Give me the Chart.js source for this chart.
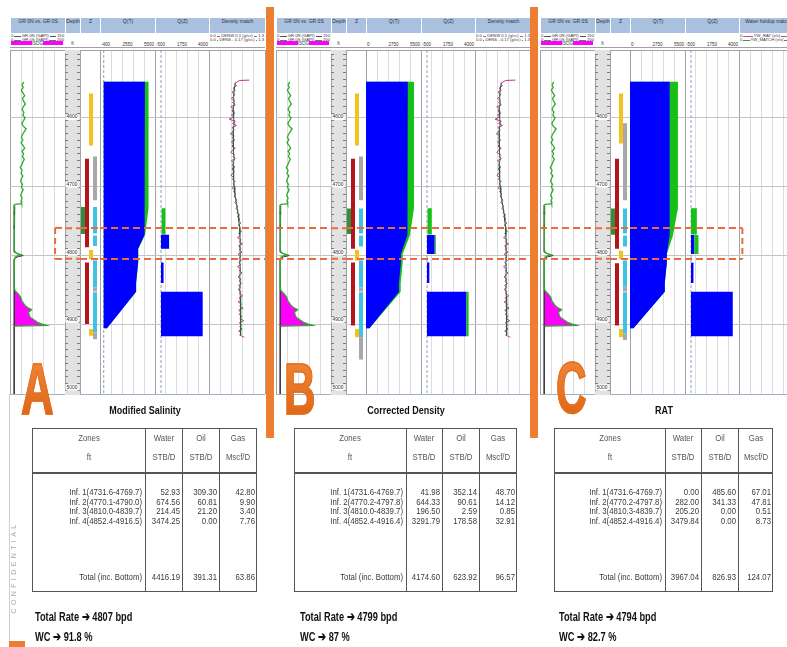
<!DOCTYPE html>
<html>
<head>
<meta charset="utf-8">
<title>Production logging interpretation comparison</title>
<script src="https://cdn.jsdelivr.net/npm/chart.js@4.4.1/dist/chart.umd.min.js"></script>
<style>
  html, body { margin: 0; padding: 0; background: #ffffff; }
  #page { position: relative; width: 787px; height: 647px; overflow: hidden; background: #ffffff;
          font-family: "Liberation Sans", Arial, sans-serif; color: #333; }
  #page canvas { position: absolute; }
  .hcell { position: absolute; top: 18px; height: 15px; background: #a9c1de; color: #2b3440;
           font-size: 5px; line-height: 7px; text-align: center; white-space: nowrap; overflow: hidden; }
  .tiny { position: absolute; font-size: 4.5px; line-height: 5px; white-space: nowrap; color: #333; }
  .lrow { position: absolute; display: flex; align-items: center; font-size: 4.2px; line-height: 4px;
          height: 4px; white-space: nowrap; color: #333; }
  .lrow .ln { flex: 1; height: 0; margin: 0 1px; }
  .sep { position: absolute; background: #ed7d31; }
  .letter { position: absolute; font-family: "Liberation Sans", sans-serif;
            font-weight: bold; font-size: 73px; line-height: 73px; transform-origin: 0 0;
            background: linear-gradient(#f28a3a, #dc6212); -webkit-background-clip: text;
            background-clip: text; color: transparent; -webkit-text-stroke: 1.5px #e2701f; }
  .ttl { position: absolute; font-weight: bold; font-size: 11.5px; line-height: 14px; color: #111;
         white-space: nowrap; text-align: center; width: 200px; transform: scaleX(0.78); transform-origin: 50% 50%; }
  .tbox { position: absolute; border: 1.3px solid #555; box-sizing: border-box; }
  .vl { position: absolute; width: 1px; background: #555; }
  .hl { position: absolute; height: 1.5px; background: #555; }
  .tt { position: absolute; font-size: 9.5px; line-height: 12px; height: 12px; color: #3a3a3a;
        white-space: nowrap; width: 200px; }
  .note { position: absolute; font-weight: bold; font-size: 12.5px; line-height: 15px; color: #111;
          white-space: nowrap; transform-origin: 0 50%; transform: scaleX(0.74); }
</style>
</head>
<body>
<div id="page"></div>
<script>
// ---------------- data ----------------
const panelLetters = ['A', 'B', 'C'];
const panelTitles = ['Modified Salinity', 'Corrected Density', 'RAT'];
const matchTitles = ['Density match', 'Density match', 'Water holdup match'];

// inflow zones (ft) per interpretation
const zoneTop = [
  [4731.6, 4770.1, 4810.0, 4852.4],
  [4731.6, 4770.2, 4810.0, 4852.4],
  [4731.6, 4770.2, 4810.3, 4852.4]
];
const zoneBottom = [
  [4769.7, 4790.0, 4839.7, 4916.5],
  [4769.7, 4797.8, 4839.7, 4916.4],
  [4769.7, 4797.8, 4839.7, 4916.4]
];
// zone rates: water STB/D, oil STB/D, gas Mscf/D
const waterRate = [
  [52.93, 674.56, 214.45, 3474.25],
  [41.98, 644.33, 196.50, 3291.79],
  [0.00, 282.00, 205.20, 3479.84]
];
const oilRate = [
  [309.30, 60.81, 21.20, 0.00],
  [352.14, 90.61, 2.59, 178.58],
  [485.60, 341.33, 0.00, 0.00]
];
const gasRate = [
  [42.80, 9.90, 3.40, 7.76],
  [48.70, 14.12, 0.85, 32.91],
  [67.01, 47.81, 0.51, 8.73]
];
const totalWater = [4416.19, 4174.60, 3967.04];
const totalOil = [391.31, 623.92, 826.93];
const totalGas = [63.86, 96.57, 124.07];
const totalRate = [4807, 4799, 4794];
const waterCut = ['91.8', '87', '82.7'];

// spinner flow profile: top of profile and the toe of the bottom zone [depth, rate]
const spinnerTop = 4549;
const spinnerToe = [4905, 350];

// dashed interval of interest (ft)
const highlight = [4760, 4805];

// zone flag track: [flag, lane, top ft, bottom ft]
const flagsA = [
  ['yellow', 2, 4566, 4641], ['grey', 3, 4657, 4720], ['red', 1, 4660, 4788], ['red', 1, 4810, 4899],
  ['green', 0, 4730, 4769], ['cyan', 3, 4730, 4768], ['cyan', 3, 4771, 4786], ['cyan', 3, 4807, 4846],
  ['grey', 3, 4846, 4852], ['cyan', 3, 4853, 4911], ['grey', 3, 4911, 4921],
  ['yellow', 2, 4792, 4805], ['yellow', 2, 4906, 4916]
];
const flagsB = [
  ['yellow', 2, 4566, 4641], ['grey', 3, 4657, 4720], ['red', 1, 4660, 4790], ['red', 1, 4810, 4901],
  ['green', 0, 4732, 4769], ['cyan', 3, 4732, 4768], ['cyan', 3, 4771, 4787], ['cyan', 3, 4807, 4846],
  ['grey', 3, 4846, 4852], ['cyan', 3, 4853, 4918], ['grey', 3, 4918, 4950],
  ['yellow', 2, 4792, 4807], ['yellow', 2, 4906, 4918]
];
const flagsC = [
  ['yellow', 2, 4566, 4638], ['grey', 3, 4609, 4720], ['red', 1, 4660, 4790], ['red', 1, 4811, 4901],
  ['green', 0, 4732, 4770], ['cyan', 3, 4732, 4768], ['cyan', 3, 4771, 4787], ['cyan', 3, 4807, 4845],
  ['grey', 3, 4845, 4852], ['cyan', 3, 4853, 4913], ['grey', 3, 4913, 4922],
  ['yellow', 2, 4793, 4805], ['yellow', 2, 4906, 4918]
];
const zoneFlags = [flagsA, flagsB, flagsC];

// gamma ray (GAPI): [depth ft, value]
const grCurve = [
  [4549,38],[4553,33],[4557,36],[4561,31],[4565,35],[4569,40],[4573,34],[4577,37],[4581,42],[4585,36],
  [4589,33],[4593,38],[4597,35],[4601,41],[4605,37],[4609,32],[4613,36],[4617,44],[4621,39],[4625,34],
  [4629,31],[4633,35],[4637,30],[4641,36],[4645,40],[4649,33],[4653,37],[4657,34],[4661,39],[4665,35],
  [4669,32],[4673,28],[4677,33],[4681,30],[4685,35],[4689,31],[4693,29],[4697,34],[4701,31],[4705,36],
  [4709,32],[4713,29],[4717,33],[4721,30],[4725,32],[4726,14],[4727,11],
  [4731,12],[4735,11],[4739,10],[4743,12],[4747,11],[4751,12],[4755,11],[4759,10],[4763,12],[4767,11],
  [4771,12],[4775,11],[4779,13],[4783,11],[4787,12],[4791,13],[4795,14],[4797,18],[4799,30],[4800,22],
  [4802,14],[4806,12],[4810,11],[4814,12],[4818,11],[4822,12],[4826,11],[4830,12],[4834,11],[4838,12],
  [4842,11],[4846,12],[4851,14],[4855,22],[4860,29],[4865,32],[4869,37],[4872,41],[4875,48],[4878,59],
  [4880,55],[4882,50],[4885,52],[4889,55],[4893,66],[4897,77],[4899,88],[4901,100],[4902,12]
];
const grBaseCurve = [
  [4728,13],[4735,11],[4742,12],[4750,11],[4758,12],[4766,11],[4774,12],[4782,11],[4790,12],[4795,13],
  [4798,24],[4800,36],[4802,20],[4805,12],[4812,11],[4820,12],[4830,11],[4840,12],[4850,11],[4860,12],
  [4870,11],[4880,12],[4890,11],[4900,12],[4910,11],[4920,12],[4930,11],[4940,12],[4950,11],[4960,12],
  [4970,11],[4980,12],[4990,11],[5000,12]
];
const grFillTop = 4851;
const grBaseline = 11;

// density match curves: [depth ft, normalised value]
const densityCurve = [
  [4546.5,0.72],[4547,0.55],[4549,0.50],[4552,0.46],[4555,0.49],[4558,0.43],[4561,0.47],[4564,0.41],
  [4567,0.46],[4570,0.44],[4573,0.40],[4576,0.45],[4579,0.42],[4582,0.47],[4585,0.39],[4588,0.44],
  [4591,0.41],[4594,0.46],[4597,0.40],[4600,0.44],[4603,0.36],[4606,0.47],[4609,0.42],[4612,0.49],
  [4615,0.41],[4618,0.45],[4621,0.43],[4624,0.38],[4627,0.45],[4630,0.42],[4633,0.46],[4636,0.40],
  [4639,0.44],[4642,0.41],[4645,0.47],[4648,0.42],[4651,0.39],[4654,0.45],[4657,0.43],[4660,0.47],
  [4663,0.40],[4666,0.44],[4669,0.42],[4672,0.46],[4675,0.41],[4678,0.45],[4681,0.43],[4684,0.39],
  [4687,0.44],[4690,0.42],[4693,0.47],[4696,0.43],[4699,0.45],[4702,0.41],[4705,0.46],[4708,0.44],
  [4711,0.48],[4714,0.45],[4717,0.47],[4720,0.50],[4723,0.46],[4726,0.49],[4729,0.51],[4732,0.48],
  [4735,0.52],[4738,0.50],[4741,0.54],[4744,0.51],[4747,0.55],[4750,0.53],[4753,0.57],[4756,0.52],
  [4759,0.56],[4762,0.54],[4765,0.58],[4768,0.53],[4771,0.56],[4774,0.51],[4777,0.57],[4780,0.54],
  [4783,0.60],[4786,0.53],[4789,0.57],[4792,0.55],[4795,0.59],[4798,0.52],[4801,0.56],[4804,0.54],
  [4807,0.58],[4810,0.53],[4813,0.57],[4816,0.51],[4819,0.56],[4822,0.54],[4825,0.59],[4828,0.55],
  [4831,0.52],[4834,0.57],[4837,0.54],[4840,0.58],[4843,0.53],[4846,0.56],[4849,0.52],[4852,0.57],
  [4855,0.55],[4858,0.60],[4861,0.54],[4864,0.57],[4867,0.52],[4870,0.58],[4873,0.55],[4876,0.61],
  [4879,0.53],[4882,0.57],[4885,0.54],[4888,0.59],[4891,0.55],[4894,0.62],[4897,0.54],[4900,0.58],
  [4903,0.55],[4906,0.59],[4909,0.53],[4912,0.57],[4915,0.55],[4917,0.60],[4918,0.63]
];
const densityModel = [
  [4550,0.47],[4560,0.45],[4570,0.44],[4580,0.45],[4590,0.43],[4600,0.44],[4610,0.45],[4620,0.43],
  [4630,0.44],[4640,0.43],[4650,0.44],[4660,0.45],[4670,0.43],[4680,0.44],[4690,0.44],[4700,0.45],
  [4710,0.46],[4720,0.48],[4730,0.50],[4740,0.52],[4750,0.53],[4760,0.55],[4770,0.55],[4780,0.56],
  [4790,0.55],[4800,0.56],[4810,0.55],[4820,0.56],[4830,0.55],[4840,0.56],[4850,0.55],[4860,0.56],
  [4870,0.56],[4880,0.57],[4890,0.56],[4900,0.57],[4910,0.56],[4915,0.57]
];

// axis ranges
const DEPTH_MIN = 4503, DEPTH_MAX = 5000;
const depthGrid = [4600, 4700, 4800, 4900];
const depthLabels = [4600, 4700, 4800, 4900, 5000];
const grRange = [0, 150];
const qtMin = [-400, 0, 0];
const qtMax = 5500;
const qgRange = [-500, 4000];
const matchRange = [0, 1];
const laneRange = [-0.25, 4.75];

// ---------------- layout & style ----------------
const LOG_TOP = 50, LOG_H = 344;
const panelX = [0, 266, 530];
const tracks = [
  { id: 'gr', x: 10, w: 55 }, { id: 'depth', x: 65, w: 15 }, { id: 'z', x: 80, w: 20 },
  { id: 'qt', x: 100, w: 55 }, { id: 'qg', x: 155, w: 54 }, { id: 'match', x: 209, w: 56 }
];
const trackTitles = { gr: 'GR 0N vs. GR 0S', depth: 'Depth', z: 'Z', qt: 'Q(T)', qg: 'Q(Z)' };
const flagColors = { yellow: '#f5c21b', red: '#b5141a', green: '#2f8f3a', cyan: '#40c3e3', grey: '#a8a8a8' };
const WATER = '#0000ff', OIL = '#16c016', DASH = '#ec6a40';
// dashed interval extent: [first track, value] .. [last track, value]
const highlightSpan = [
  { from: [0, 123], to: [5, null], leftEdge: true, rightEdge: false },
  { from: [0, null], to: [5, null], leftEdge: false, rightEdge: false },
  { from: [0, null], to: [5, 0.06], leftEdge: false, rightEdge: true }
];

Chart.defaults.font.family = '"Liberation Sans", Arial, sans-serif';

const page = document.getElementById('page');
function el(tag, cls, css, text) {
  const e = document.createElement(tag);
  if (cls) e.className = cls;
  if (css) e.style.cssText = css;
  if (text != null) e.textContent = text;
  page.appendChild(e);
  return e;
}
const pts = pairs => pairs.map(([d, v]) => ({ x: v, y: d }));
const poly = (points, color) => ({ data: points, fill: 'shape', backgroundColor: color,
  borderColor: 'rgba(0,0,0,0)', borderWidth: 0, pointRadius: 0 });
const curve = (points, color, w, dash) => ({ data: points, fill: false, borderColor: color,
  borderWidth: w, borderDash: dash || [], pointRadius: 0 });
const box = (x0, x1, y0, y1, color) =>
  poly([{ x: x0, y: y0 }, { x: x1, y: y0 }, { x: x1, y: y1 }, { x: x0, y: y1 }], color);
const divisions = (lo, hi, n) => Array.from({ length: n + 1 }, (_, i) => lo + (hi - lo) * i / n);

// one log track = one Chart.js chart sharing the depth axis
function trackChart(left, width, xMin, xMax, xTicks, layers, cfg = {}) {
  const c = document.createElement('canvas');
  c.width = width + 1; c.height = LOG_H + 1;
  c.style.left = left + 'px'; c.style.top = LOG_TOP + 'px';
  if (cfg.bg) c.style.background = cfg.bg;
  page.appendChild(c);
  const lastX = xTicks.length - 1;
  const yTicks = cfg.yTicks || [DEPTH_MIN, ...depthGrid, DEPTH_MAX];
  const lastY = yTicks.length - 1;
  const scales = {
    x: { type: 'linear', min: xMin, max: xMax, ticks: { display: false }, border: { display: false },
         grid: { drawTicks: false, lineWidth: 1,
                 color: ctx => (ctx.index === 0 || ctx.index === lastX) ? '#a3a3a3' : '#dcdcdc' },
         afterBuildTicks: s => { s.ticks = xTicks.map(v => ({ value: v })); },
         afterFit: s => { s.height = 0; } },
    y: { type: 'linear', reverse: true, min: DEPTH_MIN, max: DEPTH_MAX, ticks: { display: false },
         border: { display: false, dash: cfg.yDash || [] },
         grid: { drawTicks: false, lineWidth: 1,
                 color: cfg.yColor || (ctx => ctx.index === 0 ? '#a3a3a3' : ctx.index === lastY ? '#9fb2c9' : '#c4c4c4') },
         afterBuildTicks: s => { s.ticks = yTicks.map(v => ({ value: v })); },
         afterFit: s => { s.width = 0; } }
  };
  if (cfg.labels) {
    scales.y2 = { type: 'linear', position: 'left', reverse: true, min: DEPTH_MIN, max: DEPTH_MAX,
      border: { display: false }, grid: { display: false, drawTicks: false },
      ticks: { mirror: true, padding: 1.5, color: '#333', font: { size: 5 }, labelOffset: -3,
               showLabelBackdrop: true, backdropColor: '#ffffff',
               backdropPadding: { top: 0, bottom: 0, left: 1, right: 1 }, callback: v => String(v) },
      afterBuildTicks: s => { s.ticks = cfg.labels.map(v => ({ value: v })); },
      afterFit: s => { s.width = 0; } };
  }
  new Chart(c, {
    type: 'line',
    data: { datasets: layers.slice().reverse() },
    options: {
      responsive: false, animation: false, events: [],
      layout: { padding: { left: 0, top: 0, right: 1, bottom: 1 } },
      plugins: { legend: { display: false }, tooltip: { enabled: false } },
      elements: { point: { radius: 0 }, line: { tension: 0 } },
      scales
    }
  });
}

// cumulative spinner profile from the bottom zone upward
function profile(p, rates) {
  const n = rates.length, cum = [];
  let s = 0;
  for (let i = n - 1; i >= 0; i--) { s += rates[i]; cum[i] = s; }
  const out = [{ x: 0, y: spinnerTop }, { x: cum[0], y: spinnerTop }];
  for (let i = 0; i < n; i++) {
    out.push({ x: cum[i], y: zoneTop[p][i] });
    if (i < n - 1) out.push({ x: cum[i + 1], y: zoneBottom[p][i] });
  }
  out.push({ x: spinnerToe[1], y: spinnerToe[0] }, { x: 0, y: spinnerToe[0] });
  return out;
}

function highlightLayers(p, ti, xMin, xMax) {
  const sp = highlightSpan[p];
  if (ti < sp.from[0] || ti > sp.to[0]) return [];
  const lo = (ti === sp.from[0] && sp.from[1] != null) ? sp.from[1] : xMin;
  const hi = (ti === sp.to[0] && sp.to[1] != null) ? sp.to[1] : xMax;
  const [h0, h1] = highlight;
  const out = [
    curve([{ x: lo, y: h0 }, { x: hi, y: h0 }], DASH, 2, [7, 4]),
    curve([{ x: lo, y: h1 }, { x: hi, y: h1 }], DASH, 2, [7, 4])
  ];
  if (sp.leftEdge && ti === sp.from[0]) out.push(curve([{ x: lo, y: h0 }, { x: lo, y: h1 }], DASH, 2, [6, 4]));
  if (sp.rightEdge && ti === sp.to[0]) out.push(curve([{ x: hi, y: h0 }, { x: hi, y: h1 }], DASH, 2, [6, 4]));
  return out;
}

function legendRow(x, w, y, parts, color) {
  const r = el('div', 'lrow', `left:${x}px;top:${y}px;width:${w}px;`);
  const add = (t) => { const s = document.createElement('span'); s.textContent = t; r.appendChild(s); };
  const line = () => { const s = document.createElement('span'); s.className = 'ln';
    s.style.borderTop = `1px solid ${color}`; r.appendChild(s); };
  add(parts[0]); line(); add(parts[1]); line(); add(parts[2]);
}
function tinyAt(x, y, text, align) {
  const d = el('div', 'tiny', `top:${y}px;width:40px;text-align:${align};`, text);
  d.style.left = (align === 'left' ? x : align === 'right' ? x - 40 : x - 20) + 'px';
}
// table text, condensed horizontally around its anchor
function textAt(cls, x, y, text, align) {
  const d = el('div', cls, `top:${y - 6}px;text-align:${align};`, text);
  d.style.left = (align === 'right' ? x - 200 : align === 'center' ? x - 100 : x) + 'px';
  d.style.transformOrigin = align === 'right' ? '100% 50%' : align === 'center' ? '50% 50%' : '0 50%';
  d.style.transform = 'scaleX(0.82)';
  return d;
}

// ---------------- panels ----------------
panelX.forEach((ox, p) => {
  // track headers
  tracks.forEach(t => {
    el('div', 'hcell', `left:${ox + t.x + 1}px;width:${t.w - 1}px;`,
       t.id === 'match' ? matchTitles[p] : trackTitles[t.id]);
  });
  const T = id => tracks.find(t => t.id === id);
  const gr = T('gr'), qt = T('qt'), qg = T('qg'), mt = T('match'), dp = T('depth');
  legendRow(ox + gr.x + 1, gr.w - 2, 34, ['0', 'GR 0N (GAPI)', '150'], '#555');
  legendRow(ox + gr.x + 1, gr.w - 2, 38, ['0', 'GR 0S (GAPI)', '200'], '#2aa52a');
  el('div', '', `position:absolute;left:${ox + gr.x + 1}px;top:41px;width:21px;height:4px;background:#ff00ff;`);
  el('div', '', `position:absolute;left:${ox + gr.x + 33}px;top:41px;width:20px;height:4px;background:#ff00ff;`);
  tinyAt(ox + gr.x + 27.5, 40.5, 'ISOG', 'center');
  tinyAt(ox + dp.x + dp.w / 2, 41, 'ft', 'center');
  const qtLo = qtMin[p];
  tinyAt(ox + qt.x + 1, 42, String(qtLo), 'left');
  tinyAt(ox + qt.x + qt.w / 2, 42, String((qtLo + qtMax) / 2), 'center');
  tinyAt(ox + qt.x + qt.w - 1, 42, String(qtMax), 'right');
  tinyAt(ox + qg.x + 1, 42, String(qgRange[0]), 'left');
  tinyAt(ox + qg.x + qg.w / 2, 42, String((qgRange[0] + qgRange[1]) / 2), 'center');
  tinyAt(ox + qg.x + qg.w - 1, 42, String(qgRange[1]), 'right');
  if (p < 2) {
    legendRow(ox + mt.x + 1, mt.w - 2, 34, ['0.0', 'DENW 0.1 (g/cc)', '1.3'], '#d0409a');
    legendRow(ox + mt.x + 1, mt.w - 2, 38, ['0.0', 'DENS - 0.17 (g/cc)', '1.3'], '#2aa52a');
  } else {
    legendRow(ox + mt.x + 1, mt.w - 2, 34, ['0', 'YW_RAT (v/v)', '1'], '#e0409a');
    legendRow(ox + mt.x + 1, mt.w - 2, 38, ['0', 'YW_MATCH (v/v)', '1'], '#2aa52a');
  }
  el('div', '', `position:absolute;left:${ox + gr.x}px;top:47px;width:${mt.x + mt.w - gr.x}px;height:1px;background:#a0a0a0;`);

  // ---- log tracks ----
  tracks.forEach((t, ti) => {
    const left = ox + t.x;
    if (t.id === 'gr') {
      const fillPts = pts(grCurve.filter(([d]) => d >= grFillTop));
      fillPts.push({ x: grBaseline, y: grFillTop });
      trackChart(left, t.w, grRange[0], grRange[1], divisions(grRange[0], grRange[1], 5), [
        poly(fillPts, '#ff00ff'),
        curve(pts(grBaseCurve), '#3a3a3a', 1),
        curve(pts(grCurve), '#33a833', 1.3),
        ...highlightLayers(p, ti, grRange[0], grRange[1])
      ]);
    } else if (t.id === 'depth') {
      const ticks = [DEPTH_MIN];
      for (let d = 4510; d <= DEPTH_MAX; d += 10) ticks.push(d);
      trackChart(left, t.w, 0, 1, [0, 1], [...highlightLayers(p, ti, 0, 1)],
        { bg: '#e2e2e2', yTicks: ticks, yDash: [3, 9], yColor: '#7c7c7c', labels: depthLabels });
    } else if (t.id === 'z') {
      const layers = zoneFlags[p].map(([f, lane, d0, d1]) => box(lane, lane + 1, d0, d1, flagColors[f]));
      trackChart(left, t.w, laneRange[0], laneRange[1], laneRange,
        [...layers, ...highlightLayers(p, ti, laneRange[0], laneRange[1])]);
    } else if (t.id === 'qt') {
      const tot = waterRate[p].map((w, i) => w + oilRate[p][i]);
      trackChart(left, t.w, qtMin[p], qtMax, divisions(qtMin[p], qtMax, 5), [
        curve([{ x: 0, y: DEPTH_MIN }, { x: 0, y: DEPTH_MAX }], '#8d9cc4', 1, [3, 2]),
        poly(profile(p, tot), OIL),
        poly(profile(p, waterRate[p]), WATER),
        ...highlightLayers(p, ti, qtMin[p], qtMax)
      ]);
    } else if (t.id === 'qg') {
      const layers = [curve([{ x: 0, y: DEPTH_MIN }, { x: 0, y: DEPTH_MAX }], '#8d9cc4', 1, [3, 2])];
      zoneTop[p].forEach((d0, i) => {
        const d1 = zoneBottom[p][i], w = waterRate[p][i], o = oilRate[p][i];
        if (w > 0) layers.push(box(0, w, d0, d1, WATER));
        if (o > 0) layers.push(box(w, w + o, d0, d1, OIL));
      });
      trackChart(left, t.w, qgRange[0], qgRange[1], divisions(qgRange[0], qgRange[1], 5),
        [...layers, ...highlightLayers(p, ti, qgRange[0], qgRange[1])]);
    } else {
      const layers = p < 2 ? [curve(pts(densityCurve), '#cc2a9c', 1), curve(pts(densityModel), '#1f6e2c', 1)] : [];
      trackChart(left, t.w, matchRange[0], matchRange[1], divisions(matchRange[0], matchRange[1], 5),
        [...layers, ...highlightLayers(p, ti, matchRange[0], matchRange[1])]);
    }
  });
});

// separators between the three interpretations
el('div', 'sep', 'left:266px;top:7px;width:8px;height:431px;');
el('div', 'sep', 'left:530px;top:7px;width:8px;height:431px;');

// ---------------- letters, tables, summaries ----------------
const letterPos = [[21, 352, 0.62], [284, 352, 0.6], [556, 351, 0.58]];
const tableLeft = [32, 294, 554], tableRight = [257, 517, 773];
const tableCols = [[145, 182, 219], [406, 442, 479], [665, 701, 738]];
const noteX = [35, 300, 559];

panelX.forEach((ox, p) => {
  const lp = letterPos[p];
  el('div', 'letter', `left:${lp[0]}px;top:${lp[1]}px;transform:scaleX(${lp[2]});`, panelLetters[p]);

  const l = tableLeft[p], r = tableRight[p], cols = tableCols[p];
  const top = 428, bottom = 592, headLine = 472;
  el('div', 'ttl', `left:${(l + r) / 2 - 100}px;top:403px;`, panelTitles[p]);
  el('div', 'tbox', `left:${l}px;top:${top}px;width:${r - l}px;height:${bottom - top}px;`);
  cols.forEach(x => el('div', 'vl', `left:${x}px;top:${top}px;height:${bottom - top}px;`));
  el('div', 'hl', `left:${l}px;top:${headLine}px;width:${r - l}px;`);

  const edges = [l, ...cols, r];
  const heads = [['Zones', 'ft'], ['Water', 'STB/D'], ['Oil', 'STB/D'], ['Gas', 'Mscf/D']];
  heads.forEach((h, c) => {
    const cx = (edges[c] + edges[c + 1]) / 2;
    textAt('tt', cx, 438, h[0], 'center').style.color = '#555';
    textAt('tt', cx, 457, h[1], 'center').style.color = '#555';
  });
  const rowY = [492, 501.5, 511, 520.5];
  zoneTop[p].forEach((d0, i) => {
    const y = rowY[i];
    textAt('tt', edges[1] - 3, y, `Inf. ${i + 1}(${d0.toFixed(1)}-${zoneBottom[p][i].toFixed(1)})`, 'right');
    textAt('tt', edges[2] - 2, y, waterRate[p][i].toFixed(2), 'right');
    textAt('tt', edges[3] - 2, y, oilRate[p][i].toFixed(2), 'right');
    textAt('tt', edges[4] - 2, y, gasRate[p][i].toFixed(2), 'right');
  });
  textAt('tt', edges[1] - 3, 577, 'Total (inc. Bottom)', 'right');
  textAt('tt', edges[2] - 2, 577, totalWater[p].toFixed(2), 'right');
  textAt('tt', edges[3] - 2, 577, totalOil[p].toFixed(2), 'right');
  textAt('tt', edges[4] - 2, 577, totalGas[p].toFixed(2), 'right');

  el('div', 'note', `left:${noteX[p]}px;top:610px;`, `Total Rate \u2794 ${totalRate[p]} bpd`);
  el('div', 'note', `left:${noteX[p]}px;top:630px;`, `WC \u2794 ${waterCut[p]} %`);
});

// page frame and classification mark
el('div', '', 'position:absolute;left:9px;top:394px;width:1px;height:249px;background:#cfcfcf;');
el('div', '', 'position:absolute;left:9px;top:641px;width:16px;height:6px;background:#ed7d31;');
el('div', '', 'position:absolute;left:-47px;top:563px;width:120px;height:9px;font-size:7px;line-height:9px;letter-spacing:3.4px;color:#a9a9a9;text-align:center;transform:rotate(-90deg);font-family:"Liberation Sans",Arial,sans-serif;', 'CONFIDENTIAL');
</script>
</body>
</html>
